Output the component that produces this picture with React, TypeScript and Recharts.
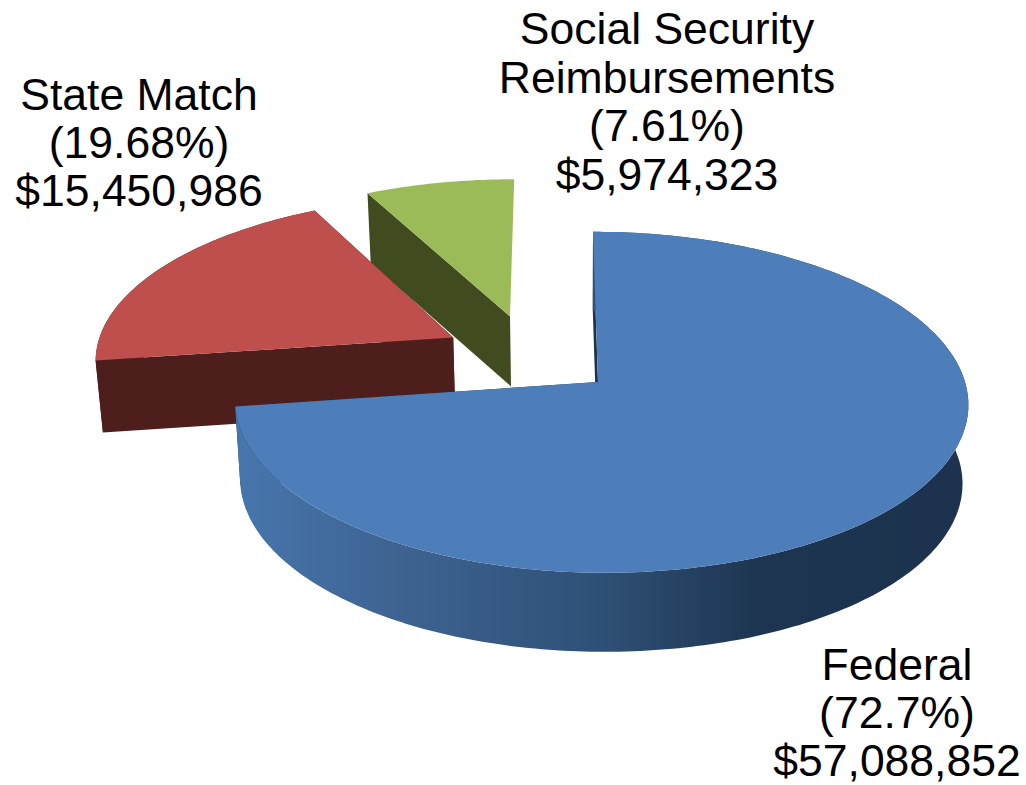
import { PieChart, Pie } from "recharts";

// Funding sources, in drawing order (back slices first so Federal sits on top)
const names = ["Social Security\nReimbursements", "State Match", "Federal"];
const amounts = [5974323, 15450986, 57088852];
const shares = ["7.61%", "19.68%", "72.7%"];

const COLORS = ["#9BBB59", "#BE4F4C", "#4D7EB9"];
const WALLS = ["#404B20", "#4E1E1D", "url(#federalWall)"];

// fake 3D camera: pie lies on a tilted plane, seen from above
const TILT = 0.458;
const CAMERA = 3082;
const VANISH_X = 551;
const SHRINK = 0.985; // bottom rim is further from the camera
const SHRINK_X = 580;

// how far each slice is pulled out on the plane, its thickness on screen,
// and how much its left half is narrowed
const PULL = [
  [-90, 150],
  [-148, 100],
  [0, 0],
];
const DEPTH = [70, 72, 79];
const LEFT_SQUEEZE = [1, 0.995, 0.984];

// label centre x, first baseline and line pitch
const LABEL_POS = [
  [667, 44, 48.7],
  [139, 110, 48],
  [897, 680, 48],
];

const data = names.map((name, i) => ({ name, value: amounts[i] }));

function project(cx: number, cy: number, X: number, Y: number) {
  const s = CAMERA / (CAMERA + Y);
  return [VANISH_X + (cx - VANISH_X + X) * s, cy - TILT * Y * s];
}

function toPath(points: number[][]) {
  return "M" + points.map((p) => p[0].toFixed(1) + "," + p[1].toFixed(1)).join("L") + "Z";
}

function Slice3D(props: any) {
  const { cx, cy, outerRadius, startAngle, endAngle, name } = props;
  const i = names.indexOf(name);
  const [px, py] = PULL[i];
  const depth = DEPTH[i];

  const rim: number[][] = [];
  const steps = Math.ceil(Math.abs(endAngle - startAngle));
  for (let k = 0; k <= steps; k++) {
    const a = ((startAngle + ((endAngle - startAngle) * k) / steps) * Math.PI) / 180;
    const dx = outerRadius * Math.cos(a);
    rim.push(project(cx, cy, px + (dx < 0 ? dx * LEFT_SQUEEZE[i] : dx), py + outerRadius * Math.sin(a)));
  }
  const apex = project(cx, cy, px, py);
  const drop = (p: number[]) => [SHRINK_X + (p[0] - SHRINK_X) * SHRINK, p[1] + depth];

  const first = rim[0];
  const last = rim[rim.length - 1];
  const outer = [...rim, ...rim.map(drop).reverse()];
  const cutFill = i === 2 ? "#1C324E" : WALLS[i];

  return (
    <g>
      {/* the green slice's right cut faces away from the viewer */}
      {i !== 0 && <path d={toPath([apex, first, drop(first), drop(apex)])} fill={cutFill} />}
      <path d={toPath([apex, last, drop(last), drop(apex)])} fill={cutFill} />
      {i !== 0 && <path d={toPath(outer)} fill={WALLS[i]} />}
      <path d={toPath([apex, ...rim])} fill={COLORS[i]} />
    </g>
  );
}

function SliceLabel(props: any) {
  const i = names.indexOf(props.name);
  const [x, y, pitch] = LABEL_POS[i];
  const lines = [
    ...names[i].split("\n"),
    "(" + shares[i] + ")",
    "$" + amounts[i].toLocaleString("en-US"),
  ];
  return (
    <text
      x={x}
      y={y}
      textAnchor="middle"
      fontFamily="Liberation Sans"
      fontSize={44.5}
      fill="#000"
    >
      {lines.map((line, k) => (
        <tspan key={k} x={x} y={y + k * pitch}>
          {line}
        </tspan>
      ))}
    </text>
  );
}

export default function App() {
  return (
    <div style={{ position: "absolute", left: 0, top: 0, width: 1026, height: 785 }}>
      <PieChart width={1026} height={785} margin={{ top: 0, right: 0, bottom: 0, left: 0 }}>
        <defs>
          <linearGradient id="federalWall" gradientUnits="userSpaceOnUse" x1={235} y1={0} x2={968} y2={0}>
            <stop offset="0" stopColor="#4776AE" />
            <stop offset="0.2" stopColor="#3F6594" />
            <stop offset="0.5" stopColor="#2F5076" />
            <stop offset="0.72" stopColor="#1D3550" />
            <stop offset="1" stopColor="#1C324E" />
          </linearGradient>
        </defs>
        <Pie
          data={data}
          dataKey="value"
          nameKey="name"
          cx={598}
          cy={382}
          outerRadius={367}
          startAngle={90}
          endAngle={450}
          stroke="none"
          shape={Slice3D}
          label={SliceLabel}
          labelLine={false}
          isAnimationActive={false}
        />
      </PieChart>
    </div>
  );
}
